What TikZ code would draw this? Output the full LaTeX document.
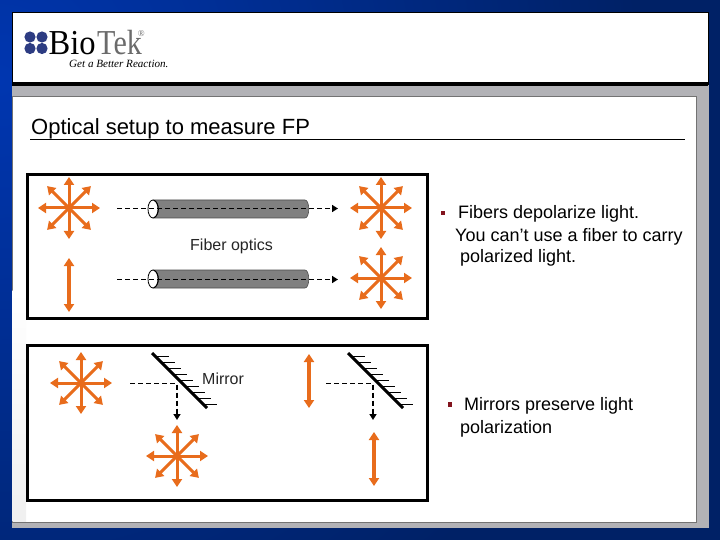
\documentclass[tikz,border=0pt]{standalone}
\usepackage{fontspec}
\setmainfont{Liberation Sans}
\newfontfamily\serifface{Liberation Serif}
\usetikzlibrary{arrows.meta,calc}
\definecolor{ray}{RGB}{232,108,28}
\definecolor{bandgray}{RGB}{178,178,182}
\definecolor{logoblue}{RGB}{45,60,130}
\definecolor{fibergray}{RGB}{128,128,128}
\definecolor{bulletred}{RGB}{130,20,30}
\definecolor{navy}{RGB}{0,33,102}
\definecolor{brightblue}{RGB}{0,54,176}
\tikzset{
  x=1pt,y=-1pt,
  raydouble/.style={draw=ray,line width=3.2pt,{Triangle[length=8pt,width=10pt]}-{Triangle[length=8pt,width=10pt]}},
  raysingle/.style={draw=ray,line width=3pt,-{Triangle[length=8pt,width=10pt]}},
  frame/.style={draw=black,line width=3pt,fill=white},
  beam/.style={draw=black,line width=1.8pt,dash pattern=on 5pt off 3pt},
  beamtip/.style={-{Triangle[length=6pt,width=7pt]}},
  mirrorline/.style={draw=black,line width=3pt},
  hatch/.style={draw=black,line width=.8pt},
  body/.style={font=\fontsize{18}{18}\selectfont,anchor=base west,inner sep=0pt,text=black},
  caption/.style={font=\fontsize{16}{16}\selectfont,anchor=base west,inner sep=0pt,text=black!85},
  square/.style={fill=bulletred,minimum size=4.5pt,inner sep=0pt,draw=none}
}
\newcommand{\starburst}[2]{%
  \coordinate (#1) at #2;
  \foreach \a in {0,45,...,315}{
    \draw[raysingle] (#1) -- ++(\a:31);
  }
  \fill[ray] (#1) circle (3.5pt);
}
\newcommand{\mirrorshape}[2]{%
  \coordinate (#1a) at #2;
  \coordinate (#1b) at ($(#1a)+(55,55)$);
  \foreach \t in {0,...,8}{
    \draw[hatch] ($(#1a)+(3+6*\t,3+6*\t)$) -- ++(14,0);
  }
  \draw[mirrorline] (#1a) -- (#1b);
}
\newcommand{\fibershape}[2]{%
  \coordinate (#1c) at #2;
  \fill[fibergray,draw=black!70,line width=.6pt]
    ($(#1c)+(0,-9)$) -- ($(#1c)+(152,-9)$)
    .. controls ($(#1c)+(157,-9)$) and ($(#1c)+(157,9)$) .. ($(#1c)+(152,9)$)
    -- ($(#1c)+(0,9)$) -- cycle;
  \draw[fill=white,draw=black,line width=.8pt] (#1c) ellipse[x radius=5,y radius=9];
  \draw[draw=black,line width=.7pt] ($(#1c)+(1,-8.5)$)
    .. controls ($(#1c)+(7,-6)$) and ($(#1c)+(7,6)$) .. ($(#1c)+(1,8.5)$);
}
\begin{document}
\begin{tikzpicture}
\useasboundingbox (0,0) rectangle (720,540);
\begin{scope}
\clip (0,0) rectangle (720,540);
\fill[navy] (0,0) rectangle (720,540);
\shade[inner color=brightblue,outer color=navy] (0,80) circle (640pt);
\end{scope}
% slide panels
\fill[bandgray] (12,84) rectangle (709,528);
\fill[white,draw=black!55,line width=.7pt] (12,96.5) -- (696,96.5) -- (696,522) -- (12,522) -- cycle;
\shade[top color=white,bottom color=black!6] (12.5,290) rectangle (26,521.5);
\fill[white,draw=black,line width=.8pt] (12,12) rectangle (708,84);
\fill[black] (12,82.5) rectangle (708,86);
% logo
\foreach \p in {(30,37),(42,37),(30,48.5),(42,48.5)}{\fill[logoblue] \p circle (5.6pt);}
\node[anchor=base west,inner sep=0pt] (logobio) at (48.5,54.5)
  {\scalebox{.93}[1]{\serifface\fontsize{35}{35}\selectfont Bio}};
\node[anchor=base west,inner sep=0pt,text=black!58] (logotek) at (97,54.5)
  {\scalebox{.86}[1]{\serifface\fontsize{35}{35}\selectfont Tek}\rlap{\raisebox{18pt}{\kern-4pt\serifface\fontsize{9}{9}\selectfont ®}}};
\node[anchor=base west,inner sep=0pt] (logotag) at (69,67.5)
  {\serifface\itshape\fontsize{11.1}{11.1}\selectfont Get a Better Reaction.};
% title
\node[anchor=base west,inner sep=0pt] (title) at (31,134.5)
  {\fontsize{22}{22}\selectfont Optical setup to measure FP};
\coordinate (ruleL) at (30,139.5);
\coordinate (ruleR) at (685,139.5);
\draw[black,line width=.8pt] (ruleL) -- (ruleR);
% frames
\draw[frame] (27,174.5) rectangle (427,318.5);
\draw[frame] (27,345) rectangle (427,500);
% fibers
\fibershape{fa}{(153,209)}
\fibershape{fb}{(153,279)}
\coordinate (fas) at (117,208.5); \coordinate (fae) at (338,208.5);
\coordinate (fbs) at (117,279.5); \coordinate (fbe) at (338,279.5);
\draw[beam,beamtip] (fas) -- (fae);
\draw[beam,beamtip] (fbs) -- (fbe);
\node[caption] (fibertext) at (190,250) {Fiber optics};
% stars and polarised arrows
\starburst{s1}{(69,208)}
\starburst{s2}{(381,208)}
\starburst{s3}{(381,278)}
\starburst{s4}{(81,383)}
\starburst{s5}{(177,456)}
\coordinate (p1a) at (69,258); \coordinate (p1b) at (69,312);
\coordinate (p2a) at (309,354); \coordinate (p2b) at (309,408);
\coordinate (p3a) at (374,432); \coordinate (p3b) at (374,486);
\draw[raydouble] (p1a) -- (p1b);
\draw[raydouble] (p2a) -- (p2b);
\draw[raydouble] (p3a) -- (p3b);
% mirrors
\mirrorshape{ma}{(152,353)}
\mirrorshape{mb}{(348,353)}
\coordinate (b1s) at (130,383.5); \coordinate (b1m) at (177,383.5); \coordinate (b1e) at (177,420);
\coordinate (b2s) at (326,383.5); \coordinate (b2m) at (373,383.5); \coordinate (b2e) at (373,420);
\draw[beam,beamtip] (b1s) -- (b1m) -- (b1e);
\draw[beam,beamtip] (b2s) -- (b2m) -- (b2e);
\node[caption] (mirrortext) at (202,384.5) {Mirror};
% right-hand text
\node[square] (b1) at (443,213) {};
\node[body] (t1) at (458,218.5) {Fibers depolarize light.};
\node[body] (t2) at (455,241) {You can’t use a fiber to carry};
\node[body] (t3) at (460,262.5) {polarized light.};
\node[square] (b2) at (450,404.5) {};
\node[body] (t4) at (464,410.5) {Mirrors preserve light};
\node[body] (t5) at (460,433) {polarization};
\end{tikzpicture}
\end{document}
